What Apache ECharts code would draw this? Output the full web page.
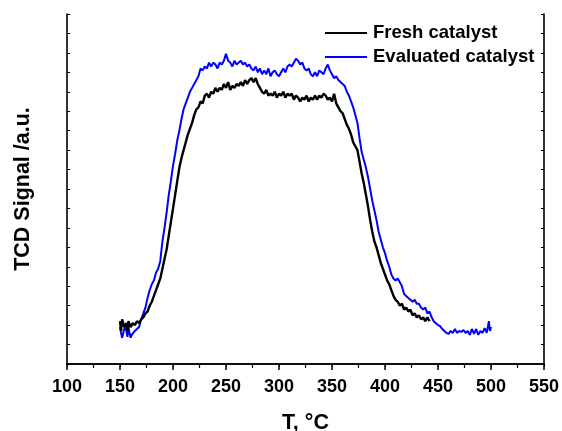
<!DOCTYPE html>
<html>
<head>
<meta charset="utf-8">
<script src="https://cdn.jsdelivr.net/npm/echarts@6/dist/echarts.min.js"></script>
<style>html,body{margin:0;padding:0;background:#fff}#c{width:562px;height:431px}</style>
</head>
<body>
<div id="c"></div>
<script>
// Temperature tick values (x axis)
const xTicks = [100, 150, 200, 250, 300, 350, 400, 450, 500, 550];

// Fresh catalyst (black): temperature / signal
const freshT = [150,151,152,154,156,157,158,160,162,164,166,168,170,172,174,176,178,180,182,184,186,188,190,192,194,196,198,200,202,204,206,208,210,212,214,216,218,220,222,224,226,228,230,232,234,236,238,240,242,244,246,248,250,252,254,256,258,260,262,264,266,268,270,272,274,276,278,280,282,284,286,288,290,292,294,296,298,300,302,304,306,308,310,312,314,316,318,320,322,324,326,328,330,332,334,336,338,340,342,344,346,348,350,352,354,356,358,360,362,364,366,368,370,372,374,376,378,380,382,384,386,388,390,392,394,396,398,400,402,404,406,408,410,412,414,416,418,420,422,424,426,428,430,432,434,436,438,440,442];
const freshS = [2.2,1.7,2.3,1.9,2.1,1.7,2.2,1.9,2.1,2.0,2.2,2.1,2.3,2.4,2.6,2.7,3.0,3.2,3.5,3.8,4.1,4.4,4.9,5.4,5.9,6.6,7.3,8.0,8.7,9.4,10.1,10.6,11.0,11.4,11.8,12.1,12.4,12.8,13.1,13.2,13.5,13.4,13.8,13.9,13.7,14.0,13.9,14.2,14.0,14.2,14.1,14.4,14.2,14.5,14.1,14.3,14.2,14.4,14.3,14.5,14.3,14.6,14.4,14.6,14.7,14.5,14.7,14.4,14.2,14.0,13.9,14.1,13.8,13.9,13.8,14.0,13.7,13.9,13.8,14.0,13.7,13.9,13.8,13.9,13.6,13.8,13.7,13.5,13.7,13.6,13.8,13.5,13.7,13.6,13.8,13.6,13.8,13.7,13.9,13.8,13.6,13.7,13.5,13.9,13.4,13.2,13.0,12.9,12.6,12.3,12.1,11.8,11.4,11.2,11.0,10.4,9.8,9.3,8.7,8.1,7.4,6.8,6.3,6.0,5.6,5.2,4.9,4.6,4.3,4.1,3.8,3.5,3.3,3.2,3.0,3.1,2.8,2.9,2.7,2.8,2.5,2.6,2.4,2.5,2.3,2.4,2.2,2.4,2.2];

// Evaluated catalyst (blue): temperature / signal
const evalT = [150,151,152,153,154,155,156,157,158,159,160,161,162,164,166,168,170,172,174,176,178,180,182,184,186,188,190,192,194,196,198,200,202,204,206,208,210,212,214,216,218,220,222,224,226,228,230,232,234,236,238,240,242,244,246,248,250,252,254,256,258,260,262,264,266,268,270,272,274,276,278,280,282,284,286,288,290,292,294,296,298,300,302,304,306,308,310,312,314,316,318,320,322,324,326,328,330,332,334,336,338,340,342,344,346,348,350,352,354,356,358,360,362,364,366,368,370,372,374,376,378,380,382,384,386,388,390,392,394,396,398,400,402,404,406,408,410,412,414,416,418,420,422,424,426,428,430,432,434,436,438,440,442,444,446,448,450,452,454,456,458,460,462,464,466,468,470,472,474,476,478,480,482,484,486,488,490,492,494,496,498,499,500];
const evalS = [1.9,1.6,1.35,1.4,1.8,2.0,1.7,1.4,1.9,1.6,1.35,1.5,1.6,1.7,1.8,1.9,2.3,2.6,2.9,3.4,3.8,4.1,4.3,4.7,4.9,5.3,6.3,7.0,7.8,8.7,9.4,10.2,10.8,11.5,12.0,12.6,13.1,13.4,13.7,14.0,14.2,14.4,14.6,14.8,15.2,15.1,15.3,15.2,15.5,15.3,15.5,15.4,15.2,15.5,15.4,15.6,15.95,15.6,15.5,15.3,15.6,15.4,15.5,15.6,15.4,15.5,15.3,15.4,15.2,15.1,15.3,15.0,15.2,14.9,15.1,14.9,15.2,14.8,15.0,15.1,14.9,14.8,15.0,15.2,15.0,15.3,15.4,15.3,15.5,15.7,15.6,15.4,15.5,15.2,15.1,15.2,14.9,14.8,15.0,14.8,15.1,15.0,14.9,15.2,15.4,15.1,14.9,14.7,14.8,14.6,14.5,14.4,14.3,14.0,13.8,13.5,13.2,12.8,12.4,11.6,10.9,10.5,10.1,9.6,9.0,8.4,7.9,7.4,6.8,6.4,6.0,5.7,5.3,5.0,4.6,4.4,4.3,4.4,4.2,4.0,3.6,3.5,3.4,3.3,3.2,3.3,3.1,3.1,2.9,2.8,2.9,2.6,2.7,2.4,2.2,2.1,2.0,1.95,1.8,1.7,1.6,1.55,1.7,1.6,1.8,1.6,1.7,1.65,1.75,1.6,1.7,1.5,1.8,1.55,1.8,1.5,1.7,1.6,1.85,1.6,2.2,1.7,1.9];

const seriesNames = ['Fresh catalyst', 'Evaluated catalyst'];

const zip = (a, b) => a.map((v, i) => [v, b[i]]);
const FONT = 'Liberation Sans, Arial, sans-serif';

const chart = echarts.init(document.getElementById('c'), null, {renderer: 'canvas'});
const axisLine = {show: true, lineStyle: {color: '#000', width: 1.6}};
chart.setOption({
  animation: false,
  backgroundColor: '#fff',
  grid: {left: 67, right: 18, top: 14, bottom: 67, containLabel: false, outerBoundsMode: 'none'},
  legend: {
    data: seriesNames,
    orient: 'vertical',
    left: 325, top: 23,
    padding: 0,
    icon: 'rect',
    itemWidth: 42, itemHeight: 2, itemGap: 4,
    textStyle: {fontFamily: FONT, fontWeight: 'bold', fontSize: 18.5, lineHeight: 20, color: '#000', padding: [0, 0, 0, 1]}
  },
  xAxis: [{
    type: 'value', position: 'bottom', min: 100, max: 550, interval: 50,
    axisLine: axisLine,
    axisTick: {show: true, inside: false, length: 6, lineStyle: {color: '#000', width: 1.5}},
    minorTick: {show: true, splitNumber: 2, length: 4, lineStyle: {color: '#000', width: 1.2}},
    splitLine: {show: false},
    axisLabel: {fontFamily: FONT, fontWeight: 'bold', fontSize: 18, color: '#000', margin: 14,
      customValues: xTicks},
    name: 'T, °C', nameLocation: 'middle', nameGap: 48,
    nameTextStyle: {fontFamily: FONT, fontWeight: 'bold', fontSize: 21.5, color: '#000'}
  }, {
    type: 'value', position: 'top', min: 100, max: 550, interval: 25,
    axisLine: axisLine,
    axisTick: {show: true, inside: true, length: 3, lineStyle: {color: '#000', width: 1}},
    axisLabel: {show: false}, splitLine: {show: false}
  }],
  yAxis: [{
    type: 'value', position: 'left', min: 0, max: 18, interval: 1,
    axisLine: axisLine,
    axisTick: {show: true, inside: true, length: 3, lineStyle: {color: '#000', width: 1}},
    axisLabel: {show: false}, splitLine: {show: false},
    name: 'TCD Signal /a.u.', nameLocation: 'middle', nameGap: 33,
    nameTextStyle: {fontFamily: FONT, fontWeight: 'bold', fontSize: 21.5, color: '#000'}
  }, {
    type: 'value', position: 'right', min: 0, max: 18, interval: 1,
    axisLine: axisLine,
    axisTick: {show: true, inside: true, length: 3, lineStyle: {color: '#000', width: 1}},
    axisLabel: {show: false}, splitLine: {show: false}
  }],
  series: [{
    name: seriesNames[1], type: 'line', xAxisIndex: 0, yAxisIndex: 0,
    data: zip(evalT, evalS), symbol: 'none', showSymbol: false,
    lineStyle: {color: '#0000ff', width: 2}, itemStyle: {color: '#0000ff'}
  }, {
    name: seriesNames[0], type: 'line', xAxisIndex: 0, yAxisIndex: 0,
    data: zip(freshT, freshS), symbol: 'none', showSymbol: false,
    lineStyle: {color: '#000', width: 2.4}, itemStyle: {color: '#000'}
  }]
});
</script>
</body>
</html>
